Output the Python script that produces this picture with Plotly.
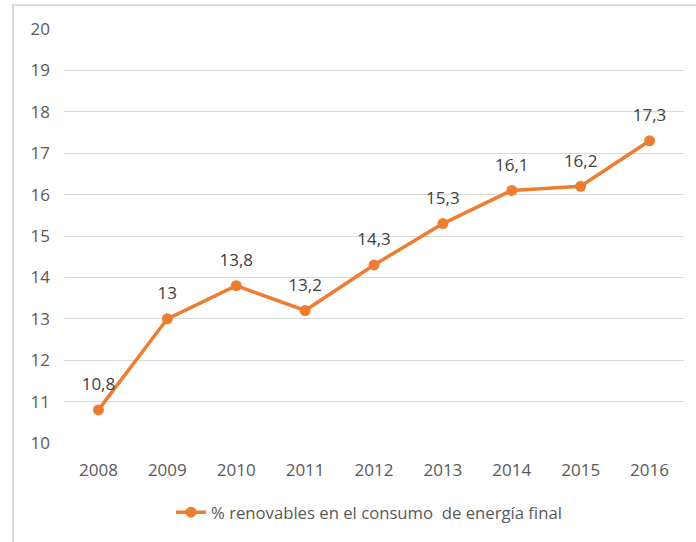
import plotly.graph_objects as go

years = ["2008", "2009", "2010", "2011", "2012", "2013", "2014", "2015", "2016"]
values = [10.8, 13.0, 13.8, 13.2, 14.3, 15.3, 16.1, 16.2, 17.3]
labels = ["10,8", "13", "13,8", "13,2", "14,3", "15,3", "16,1", "16,2", "17,3"]
series_name = "% renovables en el consumo  de energía final"

W, H = 696, 542
L, R, T, B = 64, 12, 29, 95
pw, ph = W - L - R, H - T - B
FONT = "Open Sans, sans-serif"
FS = 17

fig = go.Figure()
fig.add_trace(go.Scatter(
    x=years, y=values, mode="lines+markers",
    line=dict(color="#ED7D31", width=3.5),
    marker=dict(color="#ED7D31", size=11),
    name=series_name, showlegend=True,
))
# data labels (transparent marker to push the text further above the point)
fig.add_trace(go.Scatter(
    x=years, y=values, mode="markers+text", text=labels, textposition="top center",
    textfont=dict(family=FONT, size=FS, color="#404040"),
    marker=dict(size=23, color="rgba(0,0,0,0)"),
    showlegend=False, hoverinfo="skip",
))

def px2x(p):
    return (p - L) / pw

def py2y(p):
    return (H - B - p) / ph

fig.add_shape(type="rect", xref="paper", yref="paper",
              x0=px2x(13), x1=px2x(710), y0=py2y(555), y1=py2y(5),
              line=dict(color="#d9d9d9", width=2), fillcolor="rgba(0,0,0,0)", layer="below")

fig.update_layout(
    width=W, height=H,
    margin=dict(l=L, r=R, t=T, b=B),
    paper_bgcolor="white", plot_bgcolor="white",
    font=dict(family=FONT, size=FS, color="#595959"),
    xaxis=dict(type="category", range=[-0.5, len(years) - 0.5], autorange=False,
               showgrid=False, showline=False, ticks="", ticklabelstandoff=15,
               tickfont=dict(size=FS, color="#595959")),
    yaxis=dict(range=[10, 20], autorange=False, dtick=1, showgrid=True, gridcolor="#d9d9d9", gridwidth=1,
               zeroline=False, showline=False, ticks="", ticklen=0, ticklabelstandoff=13,
               tickfont=dict(size=FS, color="#595959")),
    legend=dict(orientation="h", x=px2x(369), xanchor="center", y=py2y(517), yanchor="middle",
                font=dict(size=16.7, color="#595959"), bgcolor="rgba(0,0,0,0)"),
    showlegend=True,
)
fig.write_html("out.html", config={"displayModeBar": False},
               post_script="document.body.style.margin='0';document.body.style.overflow='hidden';")
